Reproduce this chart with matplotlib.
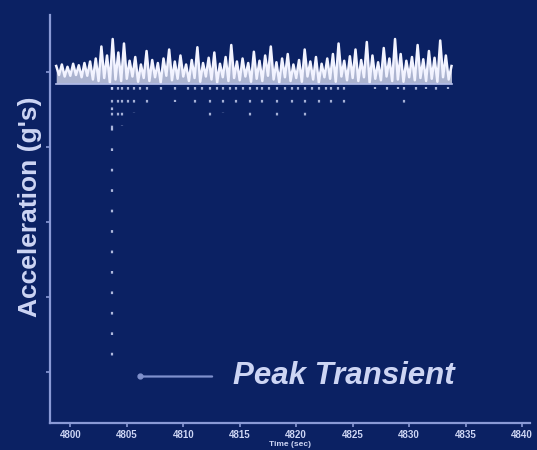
import numpy as np
import matplotlib
matplotlib.use("Agg")
import matplotlib.pyplot as plt

# Accelerometer trace (g's), sampled every 0.25 s starting at t = 4798.75 s
t_start = 4798.75
t_step = 0.25
accel = [
    0.08, -0.04, 0.10, -0.06, 0.07, -0.05, 0.11, -0.04, 0.09, -0.07, 0.12, -0.05, 0.14, -0.10,
    0.18, -0.12, 0.34, -0.08, 0.22, -0.14, 0.44, -0.10, 0.26, -0.12, 0.38, -0.09,
    0.15, -0.06, 0.20, -0.13, 0.10, -0.08, 0.28, -0.12, 0.16, -0.07,
    0.12, -0.14, 0.18, -0.05, 0.30, -0.11, 0.14, -0.09, 0.22, -0.06,
    0.10, -0.12, 0.16, -0.08, 0.33, -0.13, 0.12, -0.06, 0.19, -0.10,
    0.26, -0.14, 0.11, -0.07, 0.20, -0.12, 0.36, -0.08, 0.14, -0.11,
    0.18, -0.06, 0.12, -0.13, 0.27, -0.09, 0.15, -0.12, 0.22, -0.05,
    0.34, -0.10, 0.13, -0.14, 0.18, -0.07, 0.24, -0.12, 0.10, -0.08,
    0.16, -0.13, 0.30, -0.06, 0.14, -0.10, 0.20, -0.14, 0.11, -0.07,
    0.18, -0.09, 0.24, -0.13, 0.38, -0.06, 0.15, -0.11, 0.21, -0.08,
    0.30, -0.12, 0.16, -0.07, 0.40, -0.14, 0.22, -0.09, 0.13, -0.11,
    0.32, -0.06, 0.18, -0.12, 0.44, -0.10, 0.24, -0.13, 0.15, -0.07,
    0.20, -0.11, 0.36, -0.08, 0.17, -0.12,
    0.28, -0.09, 0.19, -0.13, 0.42, -0.07, 0.22, -0.10, 0.08,
]

# Short negative excursions below the main band
dip_times = [4803.7, 4804.2, 4804.6, 4805.1, 4805.6, 4806.2, 4806.8, 4808.0, 4809.3,
             4810.4, 4811.0, 4811.7, 4812.4, 4813.0, 4813.5, 4814.1, 4814.7, 4815.3,
             4815.9, 4816.5, 4817.0, 4817.6, 4818.3, 4819.0, 4819.6, 4820.2, 4820.8,
             4821.4, 4822.0, 4822.6, 4823.1, 4823.7, 4824.2,
             4827.0, 4828.0, 4829.0, 4829.5, 4830.6, 4831.5, 4832.4, 4833.4]
dip_values = [-0.75, -0.70, -0.72, -0.45, -0.55, -0.30, -0.45, -0.30, -0.40,
              -0.30, -0.45, -0.30, -0.58, -0.35, -0.55, -0.30, -0.45, -0.35,
              -0.58, -0.30, -0.45, -0.35, -0.58, -0.30, -0.45, -0.35, -0.58,
              -0.30, -0.45, -0.35, -0.45, -0.30, -0.45,
              -0.22, -0.30, -0.22, -0.45, -0.35, -0.22, -0.30, -0.22]

# Peak transient event
peak_time = 4803.7
peak_value = -4.0

x_ticks = [4800, 4805, 4810, 4815, 4820, 4825, 4830, 4835, 4840]
x_tick_labels = [str(v) for v in x_ticks]
y_ticks = [0, -1, -2, -3, -4]

bg = "#0b2163"
fg = "#cdd5f4"
trace_col = "#f2f3ff"
axis_col = "#8a9ad6"

plt.rcParams["font.family"] = ["Liberation Sans", "DejaVu Sans"]

fig = plt.figure(figsize=(5.37, 4.5), dpi=100, facecolor=bg)
ax = fig.add_axes([50 / 537, 27 / 450, 480 / 537, 408 / 450], facecolor=bg)

t = t_start + t_step * np.arange(len(accel))
accel_arr = np.asarray(accel)

# negative excursions (dotted rows)
ax.vlines(dip_times, -0.2, dip_values, colors=fg, linestyles=(0, (1.2, 4.6)),
          linewidth=1.6, alpha=0.8)
# peak transient (sparse dotted)
ax.vlines([peak_time], -0.2, [peak_value], colors=fg, linestyles=(0, (1.2, 8)),
          linewidth=1.6, alpha=0.85)
# main trace, filled down to its trough level
ax.fill_between(t, accel_arr, -0.15, color=trace_col, alpha=0.7, linewidth=0)
ax.plot(t, accel_arr, color=trace_col, linewidth=1.8, solid_joinstyle="round")
ax.plot([t[0], t[-1]], [-0.16, -0.16], color="#b8c2ee", linewidth=1.2)

ax.set_xlim(4798.2, 4840.7)
ax.set_ylim(-4.68, 0.76)

ax.set_xticks(x_ticks)
ax.set_xticklabels(x_tick_labels, fontsize=7, fontweight="bold", color=fg)
ax.set_yticks(y_ticks)
ax.set_yticklabels([])
ax.tick_params(axis="x", colors=axis_col, length=3, width=1.2, pad=2, labelcolor=fg)
ax.tick_params(axis="y", colors=axis_col, length=3, width=1.2, direction="out")

for side in ("top", "right"):
    ax.spines[side].set_visible(False)
for side in ("left", "bottom"):
    ax.spines[side].set_color(axis_col)
    ax.spines[side].set_linewidth(1.6)

ax.set_ylabel("Acceleration (g's)", fontsize=19, fontweight="bold", color=fg)
ax.yaxis.set_label_coords(-0.017, 0.53)
ax.set_xlabel("Time (sec)", fontsize=6, fontweight="bold", color=fg, labelpad=1)

# Peak transient callout
ax.annotate("", xy=(4806.2, -4.06), xytext=(4812.8, -4.06),
            arrowprops=dict(arrowstyle="-", color="#7f90cc", lw=1.6))
ax.plot([4806.2], [-4.06], "o", color="#7f90cc", markersize=3.5)
ax.text(4814.4, -4.06, "Peak Transient", fontsize=22.5, style="italic", fontweight="bold",
        color=fg, va="center", ha="left")

fig.savefig("out.png", dpi=100, facecolor=bg)
